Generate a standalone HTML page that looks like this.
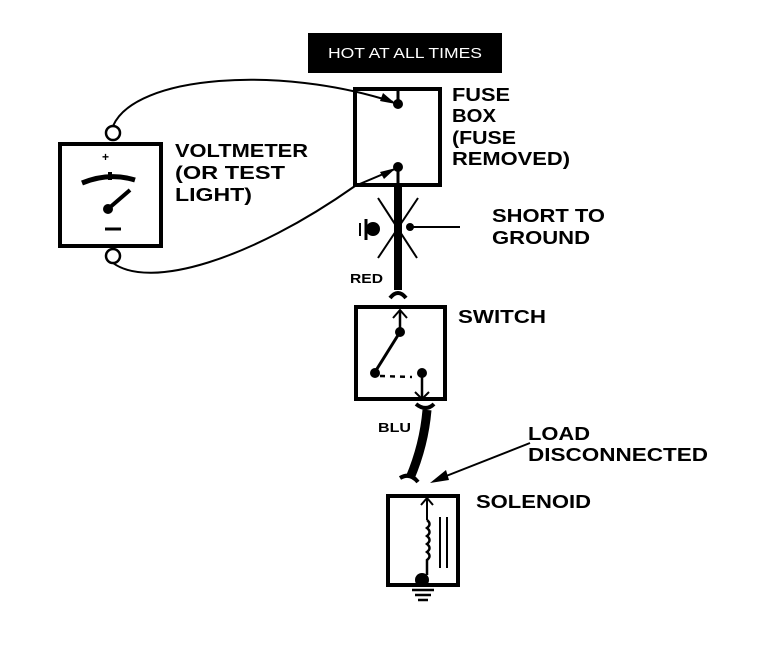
<!DOCTYPE html>
<html><head><style>
body{margin:0;background:#fff;}
svg{display:block;}
text{font-family:"Liberation Sans",sans-serif;font-weight:bold;fill:#000;}
</style></head><body>
<svg width="768" height="658" viewBox="0 0 768 658" xmlns="http://www.w3.org/2000/svg">
<rect x="308" y="33" width="194" height="40" fill="#000"/>
<text x="328" y="58" font-size="15" textLength="154" lengthAdjust="spacingAndGlyphs" style="fill:#fff;font-weight:normal">HOT AT ALL TIMES</text>
<rect x="355" y="89" width="85" height="96" fill="none" stroke="#000" stroke-width="4"/>
<line x1="398" y1="89" x2="398" y2="103" stroke="#000" stroke-width="3"/>
<circle cx="398" cy="104" r="5"/>
<circle cx="398" cy="167" r="5"/>
<line x1="398" y1="167" x2="398" y2="185" stroke="#000" stroke-width="3"/>
<text font-size="18" x="452" y="101" textLength="58" lengthAdjust="spacingAndGlyphs">FUSE</text>
<text font-size="18" x="452" y="122" textLength="44" lengthAdjust="spacingAndGlyphs">BOX</text>
<text font-size="18" x="452" y="144" textLength="64" lengthAdjust="spacingAndGlyphs">(FUSE</text>
<text font-size="18" x="452" y="165" textLength="118" lengthAdjust="spacingAndGlyphs">REMOVED)</text>
<rect x="60" y="144" width="101" height="102" fill="none" stroke="#000" stroke-width="4"/>
<circle cx="113" cy="133" r="7" fill="#fff" stroke="#000" stroke-width="2.5"/>
<circle cx="113" cy="256" r="7" fill="#fff" stroke="#000" stroke-width="2.5"/>
<text x="102" y="161" font-size="12">+</text>
<line x1="105" y1="229" x2="121" y2="229" stroke="#000" stroke-width="3"/>
<path d="M82 183 Q109 172 135 180" fill="none" stroke="#000" stroke-width="5"/>
<line x1="110" y1="172" x2="110" y2="180" stroke="#000" stroke-width="4"/>
<line x1="108" y1="209" x2="130" y2="190" stroke="#000" stroke-width="4"/>
<circle cx="108" cy="209" r="5"/>
<text font-size="18" x="175" y="157" textLength="133" lengthAdjust="spacingAndGlyphs">VOLTMETER</text>
<text font-size="18" x="175" y="179" textLength="110" lengthAdjust="spacingAndGlyphs">(OR TEST</text>
<text font-size="18" x="175" y="201" textLength="77" lengthAdjust="spacingAndGlyphs">LIGHT)</text>
<path d="M113 126 C135 75 280 65 393 102" fill="none" stroke="#000" stroke-width="2"/>
<path d="M113 263 C150 290 250 260 355 186 L395 169" fill="none" stroke="#000" stroke-width="2"/>
<polygon points="396,104 383,93 380,101" fill="#000"/>
<polygon points="396,168 380,172 384,179" fill="#000"/>
<rect x="394" y="185" width="8" height="105" fill="#000"/>
<path d="M390 298 Q398 288 406 298" fill="none" stroke="#000" stroke-width="4"/>
<line x1="378" y1="198" x2="417" y2="258" stroke="#000" stroke-width="2"/>
<line x1="418" y1="198" x2="378" y2="258" stroke="#000" stroke-width="2"/>
<line x1="408" y1="227" x2="460" y2="227" stroke="#000" stroke-width="2"/>
<circle cx="410" cy="227" r="4"/>
<circle cx="373" cy="229" r="7"/>
<line x1="366" y1="219" x2="366" y2="240" stroke="#000" stroke-width="3"/>
<line x1="360" y1="223" x2="360" y2="236" stroke="#000" stroke-width="2"/>
<text font-size="18" x="492" y="222" textLength="113" lengthAdjust="spacingAndGlyphs">SHORT TO</text>
<text font-size="18" x="492" y="244" textLength="98" lengthAdjust="spacingAndGlyphs">GROUND</text>
<text font-size="13" x="350" y="283" textLength="33" lengthAdjust="spacingAndGlyphs">RED</text>
<rect x="356" y="307" width="89" height="92" fill="none" stroke="#000" stroke-width="4"/>
<line x1="400" y1="310" x2="400" y2="332" stroke="#000" stroke-width="2.5"/>
<path d="M393 318 L400 310 L407 318" fill="none" stroke="#000" stroke-width="2"/>
<circle cx="400" cy="332" r="5"/>
<line x1="400" y1="332" x2="375" y2="372" stroke="#000" stroke-width="3"/>
<circle cx="375" cy="373" r="5"/>
<line x1="380" y1="376" x2="412" y2="377" stroke="#000" stroke-width="2.5" stroke-dasharray="5,5"/>
<circle cx="422" cy="373" r="5"/>
<line x1="422" y1="373" x2="422" y2="399" stroke="#000" stroke-width="2.5"/>
<path d="M415 392 L422 399 L429 392" fill="none" stroke="#000" stroke-width="2"/>
<text font-size="18" x="458" y="323" textLength="88" lengthAdjust="spacingAndGlyphs">SWITCH</text>
<path d="M427 410 Q424 445 410 478" fill="none" stroke="#000" stroke-width="9"/>
<path d="M416 404 Q426 412 434 404" fill="none" stroke="#000" stroke-width="4"/>
<path d="M400 478 Q410 472 418 482" fill="none" stroke="#000" stroke-width="4"/>
<text font-size="13" x="378" y="432" textLength="33" lengthAdjust="spacingAndGlyphs">BLU</text>
<line x1="530" y1="443" x2="436" y2="480" stroke="#000" stroke-width="2"/>
<polygon points="430,483 446,470 449,480" fill="#000"/>
<text font-size="18" x="528" y="440" textLength="62" lengthAdjust="spacingAndGlyphs">LOAD</text>
<text font-size="18" x="528" y="461" textLength="180" lengthAdjust="spacingAndGlyphs">DISCONNECTED</text>
<rect x="388" y="496" width="70" height="89" fill="none" stroke="#000" stroke-width="4"/>
<line x1="427" y1="498" x2="427" y2="520" stroke="#000" stroke-width="2"/>
<path d="M421 505 L427 498 L433 505" fill="none" stroke="#000" stroke-width="2"/>
<path d="M427 520 q5 4 0 8 q5 4 0 8 q5 4 0 8 q5 4 0 8 q5 4 0 8 L427 575" fill="none" stroke="#000" stroke-width="2.5"/>
<line x1="440" y1="517" x2="440" y2="568" stroke="#000" stroke-width="2"/>
<line x1="447" y1="517" x2="447" y2="568" stroke="#000" stroke-width="2"/>
<circle cx="422" cy="580" r="7"/>
<line x1="412" y1="590" x2="434" y2="590" stroke="#000" stroke-width="2.5"/>
<line x1="415" y1="595" x2="431" y2="595" stroke="#000" stroke-width="2.5"/>
<line x1="418" y1="600" x2="428" y2="600" stroke="#000" stroke-width="2.5"/>
<text font-size="18" x="476" y="508" textLength="115" lengthAdjust="spacingAndGlyphs">SOLENOID</text>
</svg>
</body></html>
